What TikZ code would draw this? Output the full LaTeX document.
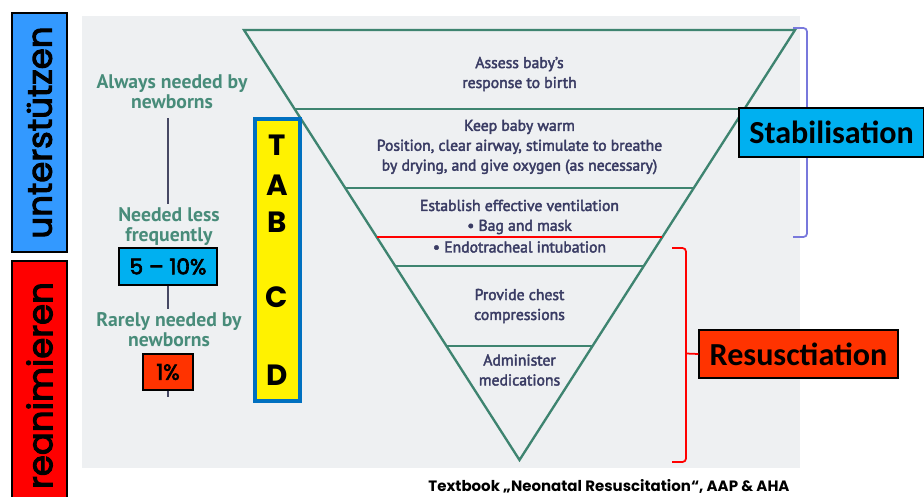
\documentclass[tikz,border=0pt]{standalone}
\usepackage{fontspec}
\setmainfont{PT Sans}
\newfontfamily\stagefont{PT Sans}[FakeBold=2.6]
\newfontfamily\gothic{Poppins}
\newfontfamily\gothicmed{Poppins}[FakeBold=3]
\newfontfamily\calib{Carlito}
\usetikzlibrary{calc}

\definecolor{paper}{RGB}{238,240,242}
\definecolor{tealline}{RGB}{62,132,112}
\definecolor{tealtext}{RGB}{72,140,122}
\definecolor{navytext}{RGB}{58,60,100}
\definecolor{stemgray}{RGB}{70,72,100}
\definecolor{lilac}{RGB}{120,120,220}
\definecolor{skyblue}{RGB}{0,176,240}
\definecolor{barblue}{RGB}{51,153,255}
\definecolor{orangered}{RGB}{255,51,0}
\definecolor{frameblue}{RGB}{0,112,192}

\begin{document}
\begin{tikzpicture}[x=0.03cm, y=-0.03cm,
	stage/.style={text=navytext, align=center, font=\stagefont\fontsize{13.4}{17}\selectfont},
	hint/.style={text=tealtext, align=center, font=\bfseries\fontsize{16.8}{17}\selectfont},
	rate/.style={draw=black, line width=1pt, inner sep=0pt, font=\gothicmed\fontsize{18.5}{20}\selectfont},
	bar/.style={draw=black, line width=1pt, rotate=90, inner sep=0pt, font=\gothicmed\fontsize{29}{32}\selectfont},
	label/.style={draw=black, line width=1pt, inner sep=0pt, font=\calib\bfseries\fontsize{27.4}{30}\selectfont},
	letter/.style={font=\gothic\bfseries\fontsize{25}{28}\selectfont},
	level/.style={draw=tealline, line width=2pt},
	stem/.style={draw=stemgray, line width=1pt},
	]
	
	\useasboundingbox (0,0) rectangle (924,496);
	\clip (0,0) rectangle (924,496);
	
	%-----------------------
	% Scanned page
	%-----------------------
	\fill[paper] (82,16) rectangle (800,468);
	
	%-----------------------
	% Triangle corners
	%-----------------------
	\coordinate (TL) at (244,30);
	\coordinate (TR) at (795,30);
	\coordinate (apex) at (519.5,460);
	
	\draw[level, line join=miter] (TL) -- (TR) -- (apex) -- cycle;
	
	% levels
	\foreach \t in {0.1837,0.3674,0.5488,0.7349}
		\draw[level] ($(TL)!\t!(apex)$) -- ($(TR)!\t!(apex)$);
	
	% red cut
	\draw[red, line width=2pt] ($(TL)!0.4814!(apex)$) -- ($(TR)!0.4814!(apex)$);
	
	%-----------------------
	% Triangle texts
	%-----------------------
	\node[stage] (assess) at (519.5,74) {Assess baby’s\\response to birth};
	\node[stage] (warm) at (519.5,147) {Keep baby warm\\Position, clear airway, stimulate to breathe\\by drying, and give oxygen (as necessary)};
	\node[stage] (vent) at (519.5,217) {Establish effective ventilation\\• Bag and mask};
	\node[stage] (tube) at (519.5,247) {• Endotracheal intubation};
	\node[stage] (chest) at (519.5,306) {Provide chest\\compressions};
	\node[stage] (meds) at (519.5,370) {Administer\\medications};
	
	%-----------------------
	% Left: how often
	%-----------------------
	\node[hint] (always) at (172,92) {Always needed by\\newborns};
	\node[hint] (less) at (169,227) {Needed less\\frequently};
	\node[rate, fill=skyblue, minimum width=98*0.03cm, minimum height=37*0.03cm] (r510) at (168,266.5) {5 – 10\%};
	\node[hint] (rarely) at (169,330) {Rarely needed by\\newborns};
	\node[rate, fill=orangered, minimum width=50*0.03cm, minimum height=36*0.03cm] (r1) at (168,372) {1\%};
	\coordinate (tail) at (168,397);
	
	\draw[stem] (r510.north |- always.south) ++(0,5) -- (r510.north |- less.north);
	\draw[stem] (r510.south) -- (r510.south |- rarely.north);
	\draw[stem] (r1.south) -- (tail);
	
	%-----------------------
	% Left bars
	%-----------------------
	\node[bar, fill=barblue, minimum width=239*0.03cm, minimum height=55*0.03cm] (support) at (39.5,132.5) {unterstützen};
	\node[bar, fill=red, minimum width=249*0.03cm, minimum height=55*0.03cm] (revive) at (39.5,385.5) {reanimieren};
	
	%-----------------------
	% TABCD column
	%-----------------------
	\node[draw=frameblue, fill=yellow, line width=3pt, minimum width=45*0.03cm, minimum height=282*0.03cm] (tabcd) at (277.5,260) {};
	\node[letter] (T) at (277,145) {T};
	\node[letter] (A) at (277,185) {A};
	\node[letter] (B) at (277,222) {B};
	\node[letter] (C) at (277,297) {C};
	\node[letter] (D) at (277,375) {D};
	
	%-----------------------
	% Right brackets
	%-----------------------
	\draw[lilac, line width=1.5pt, rounded corners=3pt] (793,28) -- (807,28) -- (807,237) -- (793,237);
	\draw[red, line width=1.5pt, rounded corners=3pt] (672,248) -- (686,248) -- (686,462) -- (672,462);
	
	\node[label, fill=skyblue, minimum width=185*0.03cm, minimum height=49*0.03cm] (stab) at (831.5,132.5) {Stabilisation};
	\node[label, fill=orangered, minimum width=199*0.03cm, minimum height=48*0.03cm] (resus) at (798.5,354) {Resusctiation};
	
	\draw[red, line width=1.5pt] (686,353.5) -- (resus.west);
	
	%-----------------------
	% Source
	%-----------------------
	\node[font=\gothic\bfseries\fontsize{12.8}{14}\selectfont, inner sep=1pt] (source) at (609,486) {Textbook „Neonatal Resuscitation“, AAP \& AHA};
	
\end{tikzpicture}
\end{document}
